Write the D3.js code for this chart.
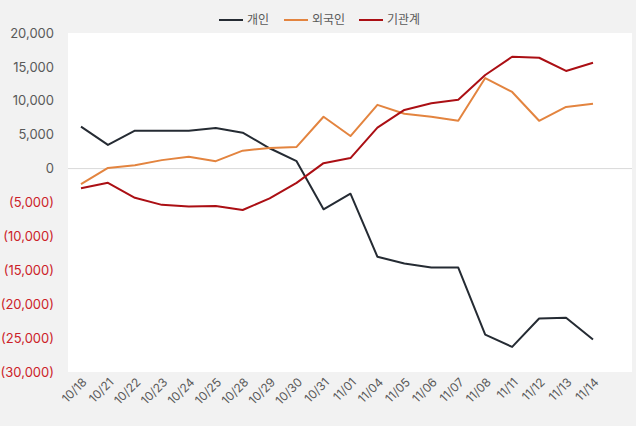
<!DOCTYPE html>
<html><head><meta charset="utf-8">
<script src="https://cdn.jsdelivr.net/npm/d3@7"></script>
<style>body{margin:0;background:#f2f2f2;}svg{display:block;font-family:"Noto Sans CJK KR","Inter",sans-serif;}</style>
</head><body><svg id="c" width="636" height="426"></svg>
<script>
const dates = ["10/18","10/21","10/22","10/23","10/24","10/25","10/28","10/29","10/30","10/31","11/01","11/04","11/05","11/06","11/07","11/08","11/11","11/12","11/13","11/14"];
const individual = [6200,3500,5600,5600,5600,6000,5300,3000,1100,-6000,-3700,-13000,-14000,-14600,-14600,-24500,-26300,-22100,-22000,-25200];
const foreign = [-2300,100,500,1250,1750,1100,2650,3050,3200,7650,4800,9400,8100,7650,7050,13350,11300,7050,9100,9550];
const institution = [-2900,-2100,-4300,-5350,-5600,-5500,-6100,-4400,-2100,800,1550,6050,8650,9650,10150,13800,16500,16350,14400,15600];
const yTicks = [20000,15000,10000,5000,0,-5000,-10000,-15000,-20000,-25000,-30000];
const seriesNames = ["개인","외국인","기관계"];
const colors = ["#252b33","#e3843f","#ab0f14"];

const svg = d3.select("#c");
const L=68,R=632,T=33,B=372;
svg.append("rect").attr("width",636).attr("height",426).attr("fill","#f2f2f2");
svg.append("rect").attr("x",L).attr("y",T).attr("width",R-L).attr("height",B-T).attr("fill","#fff");

const x = d3.scalePoint().domain(dates).range([81,593]);
const y = d3.scaleLinear().domain([-30000,20000]).range([B,T]);

// zero line
svg.append("line").attr("x1",L).attr("x2",R).attr("y1",y(0)).attr("y2",y(0)).attr("stroke","#d9d9d9").attr("stroke-width",1);

// y axis
const fmt = d3.format(",");
const yAxis = d3.axisLeft(y).tickValues(yTicks).tickSize(0).tickPadding(0).tickFormat(v=> v<0?`(${fmt(-v)})`:fmt(v));
const yg = svg.append("g").attr("transform",`translate(54,0)`).call(yAxis);
yg.select(".domain").remove();
yg.selectAll("text").attr("font-size",13).attr("font-family","Inter,'Noto Sans',sans-serif")
  .attr("fill",d=>d<0?"#cc2229":"#595959");

// x axis
const xAxis = d3.axisBottom(x).tickSize(0).tickPadding(0);
const xg = svg.append("g").attr("transform",`translate(0,${B+8})`).call(xAxis);
xg.select(".domain").remove();
xg.selectAll("text").attr("font-size",12).attr("font-family","Inter,'Noto Sans',sans-serif").attr("fill","#595959")
  .attr("text-anchor","end").attr("dy","0.35em").attr("dx","0")
  .attr("transform","translate(3,0) rotate(-45)");

// lines
const line = d3.line().x((d,i)=>x(dates[i])).y(d=>y(d));
[individual,foreign,institution].forEach((s,k)=>{
  svg.append("path").datum(s).attr("d",line).attr("fill","none").attr("stroke",colors[k]).attr("stroke-width",2).attr("stroke-linejoin","round");
});

// legend
const legX = [219,284,359];
seriesNames.forEach((n,k)=>{
  const g = svg.append("g").attr("transform",`translate(${legX[k]},20)`);
  g.append("line").attr("x1",0).attr("x2",24).attr("stroke",colors[k]).attr("stroke-width",2);
  g.append("text").attr("x",28).attr("dy","0.35em").attr("font-size",12).attr("fill","#595959").text(n);
});
</script></body></html>
